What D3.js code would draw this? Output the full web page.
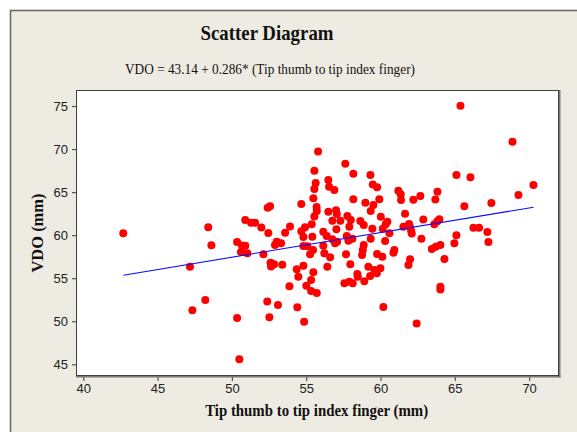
<!DOCTYPE html>
<html>
<head>
<meta charset="utf-8">
<script src="https://cdn.jsdelivr.net/npm/d3@7"></script>
<style>
  html, body { margin: 0; padding: 0; background: #ffffff; }
  svg { display: block; }
</style>
</head>
<body>
<script>
// ---- Data ----
const titleText = "Scatter Diagram";
const subtitleText = "VDO =  43.14 + 0.286* (Tip thumb to tip index finger)";
const xLabel = "Tip thumb to tip index finger (mm)";
const yLabel = "VDO (mm)";

const xTicks = [40, 45, 50, 55, 60, 65, 70];
const yTicks = [45, 50, 55, 60, 65, 70, 75];

// Tip thumb to tip index finger (mm)
const thumbIndex = [
  42.69,47.18,47.34,48.21,48.41,48.62,50.35,50.68,50.90,50.61,51.04,50.35,50.50,50.90,51.29,51.56,51.98,52.12,52.45,52.57,
  52.41,52.38,52.52,53.10,52.60,52.84,52.63,53.39,53.02,52.90,53.31,53.58,53.91,53.87,54.67,54.67,54.92,54.81,54.81,55.08,
  54.36,54.81,54.47,54.40,54.86,55.01,55.33,55.48,55.33,55.71,55.46,55.26,55.41,55.37,55.55,55.70,55.71,55.48,55.55,55.64,
  55.55,55.80,
  57.63,58.17,59.32,56.49,56.54,56.89,59.48,59.77,61.20,61.36,61.38,58.17,58.98,59.92,59.52,59.34,56.49,57.01,57.06,56.76,
  57.30,57.77,58.00,57.90,58.64,58.87,60.02,60.46,60.35,61.65,59.45,60.15,57.03,61.54,60.60,56.15,56.38,56.76,56.94,57.08,
  57.73,57.84,58.11,59.34,60.31,56.15,58.87,58.81,58.76,56.22,56.61,57.68,59.77,60.12,60.93,60.87,57.97,56.42,59.18,59.59,
  59.99,59.75,59.30,58.44,58.47,57.57,57.90,58.13,58.91,60.19,
  65.11,66.05,63.83,62.68,62.21,63.69,67.46,65.64,62.88,63.96,63.83,63.62,61.92,61.99,62.06,62.10,66.25,66.63,67.19,65.11,
  62.75,64.97,67.26,63.45,63.72,64.03,61.99,61.88,64.30,64.03,64.03,62.43,65.38,68.88,70.29,69.28
];
// VDO (mm)
const vdo = [
  60.21,56.34,51.27,52.47,60.91,58.82,59.20,58.80,58.77,58.04,57.89,50.38,45.58,61.76,61.43,61.45,60.89,57.78,60.25,63.35,
  63.19,52.29,50.46,51.89,56.80,56.61,56.36,56.57,59.24,58.86,59.05,60.28,61.00,54.06,63.62,60.45,60.91,59.78,58.74,58.70,
  56.03,56.45,55.17,51.63,49.95,54.13,54.79,55.69,53.51,53.28,58.28,57.78,59.82,61.26,62.17,63.27,62.80,64.28,65.36,66.06,
  67.49,69.72,
  68.30,67.14,66.99,66.41,65.63,65.24,65.88,65.56,65.16,64.74,64.08,64.16,63.77,64.16,63.50,62.80,62.72,62.89,62.46,61.68,
  61.68,62.22,61.76,60.98,61.64,61.18,62.14,61.56,61.26,62.49,60.75,60.75,60.68,60.98,60.21,60.40,59.90,59.52,59.05,59.24,
  59.90,59.36,59.59,59.59,59.32,58.77,58.86,58.28,57.70,57.89,57.43,57.78,57.81,57.50,58.28,57.96,56.61,56.34,56.34,55.95,
  56.15,55.57,55.26,55.49,55.17,54.41,54.59,54.41,54.64,51.66,
  66.99,66.72,65.05,64.55,64.12,64.14,63.73,63.35,61.82,61.84,61.61,61.26,61.30,60.91,60.52,60.19,60.87,60.87,60.37,59.98,
  59.59,59.05,59.20,58.39,58.66,58.86,57.20,56.53,57.23,54.01,53.69,49.74,75.03,70.85,65.82,64.66
];

// Fitted regression line end points
const fitX = [42.7, 70.3];
const fitY = [55.35, 63.24];

// ---- Drawing ----
const W = 577, H = 432;
const plot = { left: 76, top: 90, right: 559, bottom: 376 };

const svg = d3.select("body").append("svg")
  .attr("width", W).attr("height", H);

// outer beige panel
svg.append("rect")
  .attr("x", 10.5).attr("y", 10.5)
  .attr("width", W + 20).attr("height", H + 20)
  .attr("fill", "#eeebe2")
  .attr("stroke", "#6a6a6a").attr("stroke-width", 1.6);

const x = d3.scaleLinear().domain([39.51, 72.01]).range([plot.left, plot.right]);
const y = d3.scaleLinear().domain([43.64, 76.86]).range([plot.bottom, plot.top]);

// plot area
svg.append("rect")
  .attr("x", plot.left).attr("y", plot.top)
  .attr("width", plot.right - plot.left).attr("height", plot.bottom - plot.top)
  .attr("fill", "#ffffff");

// shadow on right / bottom
svg.append("line")
  .attr("x1", plot.right + 0.5).attr("x2", plot.right + 0.5)
  .attr("y1", plot.top).attr("y2", plot.bottom + 1.5)
  .attr("stroke", "#7a7a7a").attr("stroke-width", 2);
svg.append("line")
  .attr("x1", plot.left).attr("x2", plot.right + 1.5)
  .attr("y1", plot.bottom + 0.5).attr("y2", plot.bottom + 0.5)
  .attr("stroke", "#7a7a7a").attr("stroke-width", 2);
svg.append("rect")
  .attr("x", plot.left + 0.5).attr("y", plot.top + 0.5)
  .attr("width", plot.right - plot.left - 1).attr("height", plot.bottom - plot.top - 1)
  .attr("fill", "none")
  .attr("stroke", "#404040").attr("stroke-width", 1);

// axes
const tickFont = "'Liberation Sans', Arial, sans-serif";
const xAxis = svg.append("g")
  .attr("transform", `translate(0,${plot.bottom + 1})`)
  .call(d3.axisBottom(x).tickValues(xTicks).tickSize(4).tickSizeOuter(0).tickPadding(3));
xAxis.select(".domain").remove();
xAxis.selectAll("line").attr("stroke", "#555").attr("stroke-width", 1.2);
xAxis.selectAll("text").attr("font-family", tickFont).attr("font-size", 13).attr("fill", "#222");

const yAxis = svg.append("g")
  .attr("transform", `translate(${plot.left},0)`)
  .call(d3.axisLeft(y).tickValues(yTicks).tickSize(4).tickSizeOuter(0).tickPadding(4));
yAxis.select(".domain").remove();
yAxis.selectAll("line").attr("stroke", "#555").attr("stroke-width", 1.2);
yAxis.selectAll("text").attr("font-family", tickFont).attr("font-size", 13).attr("fill", "#222");

// points
const pts = thumbIndex.map((v, i) => [v, vdo[i]]);
svg.append("g").selectAll("circle").data(pts).join("circle")
  .attr("cx", d => x(d[0])).attr("cy", d => y(d[1]))
  .attr("r", 4).attr("fill", "#ff0000");

// fitted line
const line = d3.line().x(d => x(d[0])).y(d => y(d[1]));
svg.append("path")
  .datum(fitX.map((v, i) => [v, fitY[i]]))
  .attr("d", line)
  .attr("fill", "none").attr("stroke", "#0a0aff").attr("stroke-width", 1.1);

// titles
const serif = "'Liberation Serif', 'Times New Roman', serif";
svg.append("text")
  .attr("x", 267).attr("y", 40).attr("text-anchor", "middle")
  .attr("font-family", serif).attr("font-weight", "bold").attr("font-size", 21)
  .attr("textLength", 133).attr("lengthAdjust", "spacingAndGlyphs")
  .attr("fill", "#111").text(titleText);
svg.append("text")
  .attr("x", 270).attr("y", 74).attr("text-anchor", "middle")
  .attr("font-family", serif).attr("font-size", 15.5)
  .attr("textLength", 290).attr("lengthAdjust", "spacingAndGlyphs")
  .attr("fill", "#111").text(subtitleText);
svg.append("text")
  .attr("x", 316.7).attr("y", 416).attr("text-anchor", "middle")
  .attr("font-family", serif).attr("font-weight", "bold").attr("font-size", 16)
  .attr("textLength", 223).attr("lengthAdjust", "spacingAndGlyphs")
  .attr("fill", "#111").text(xLabel);
svg.append("text")
  .attr("transform", "translate(43,233) rotate(-90)")
  .attr("text-anchor", "middle")
  .attr("font-family", serif).attr("font-weight", "bold").attr("font-size", 16)
  .attr("textLength", 79).attr("lengthAdjust", "spacingAndGlyphs")
  .attr("fill", "#111").text(yLabel);
</script>
</body>
</html>
